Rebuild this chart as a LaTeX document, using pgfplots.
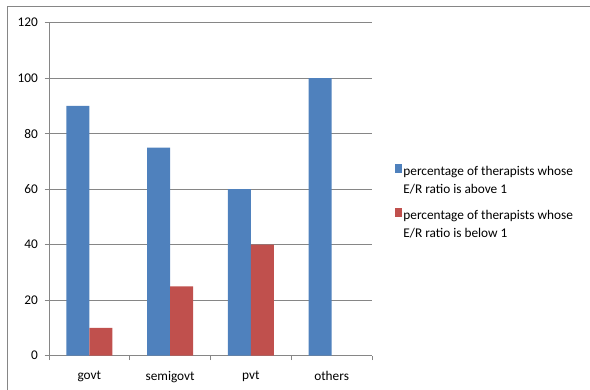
\documentclass[border=0pt]{standalone}
\usepackage{pgfplots}
\pgfplotsset{compat=1.18}
\usepackage{fontspec}
\setmainfont{Carlito}
\definecolor{xlblue}{HTML}{4F81BD}
\definecolor{xlred}{HTML}{C0504D}
\definecolor{xlgrid}{HTML}{868686}

\begin{document}
\fontsize{13.3}{18}\selectfont
\begin{tikzpicture}[x=1pt,y=1pt]
\useasboundingbox (0,0) rectangle (590,389);
% chart frame
\draw[xlgrid, line width=1pt] (7.5,382.5) rectangle (640,-40);
\begin{axis}[
  at={(49pt,33.3pt)}, anchor=south west,
  scale only axis, width=323pt, height=333pt,
  xmin=-0.5, xmax=3.5, ymin=0, ymax=120,
  ytick={0,20,...,120},
  ymajorgrids, grid style={xlgrid, line width=0.8pt},
  axis x line*=bottom, axis y line*=left,
  axis line style={xlgrid, line width=0.8pt, -},
  tick style={xlgrid, line width=0.8pt},
  tick align=outside, major tick length=4.5pt,
  xtick={-0.5,0.5,1.5,2.5,3.5}, xticklabels={},
  extra x ticks={0,1,2,3},
  extra x tick labels={govt,semigovt,pvt,others},
  extra x tick style={major tick length=0pt, grid=none,
    xticklabel style={yshift=-11pt}},
  yticklabel style={xshift=-2pt},
  /pgf/number format/assume math mode=true,
  tick label style={font=\fontsize{13.3}{16}\selectfont, text=black},
  legend cell align=left,
  legend style={at={(1.061,0.593)}, anchor=north west, draw=none, fill=none,
    row sep=26pt, nodes={inner xsep=1.5pt}},
]
\addplot[ybar, fill=xlblue, draw=none, bar width=23pt, bar shift=-11.5pt,
  legend image code/.code={\fill[xlblue] (0pt,-3pt) rectangle (7pt,6pt);}]
  coordinates {(0,90) (1,75) (2,60) (3,100)};
\addlegendentry{\begin{tabular}[t]{@{}l@{}}percentage of therapists whose\\E/R ratio is above 1\end{tabular}}
\addplot[ybar, fill=xlred, draw=none, bar width=23pt, bar shift=11.5pt,
  legend image code/.code={\fill[xlred] (0pt,-3pt) rectangle (7pt,6pt);}]
  coordinates {(0,10) (1,25) (2,40)};
\addlegendentry{\begin{tabular}[t]{@{}l@{}}percentage of therapists whose\\E/R ratio is below 1\end{tabular}}
\end{axis}
\end{tikzpicture}
\end{document}
